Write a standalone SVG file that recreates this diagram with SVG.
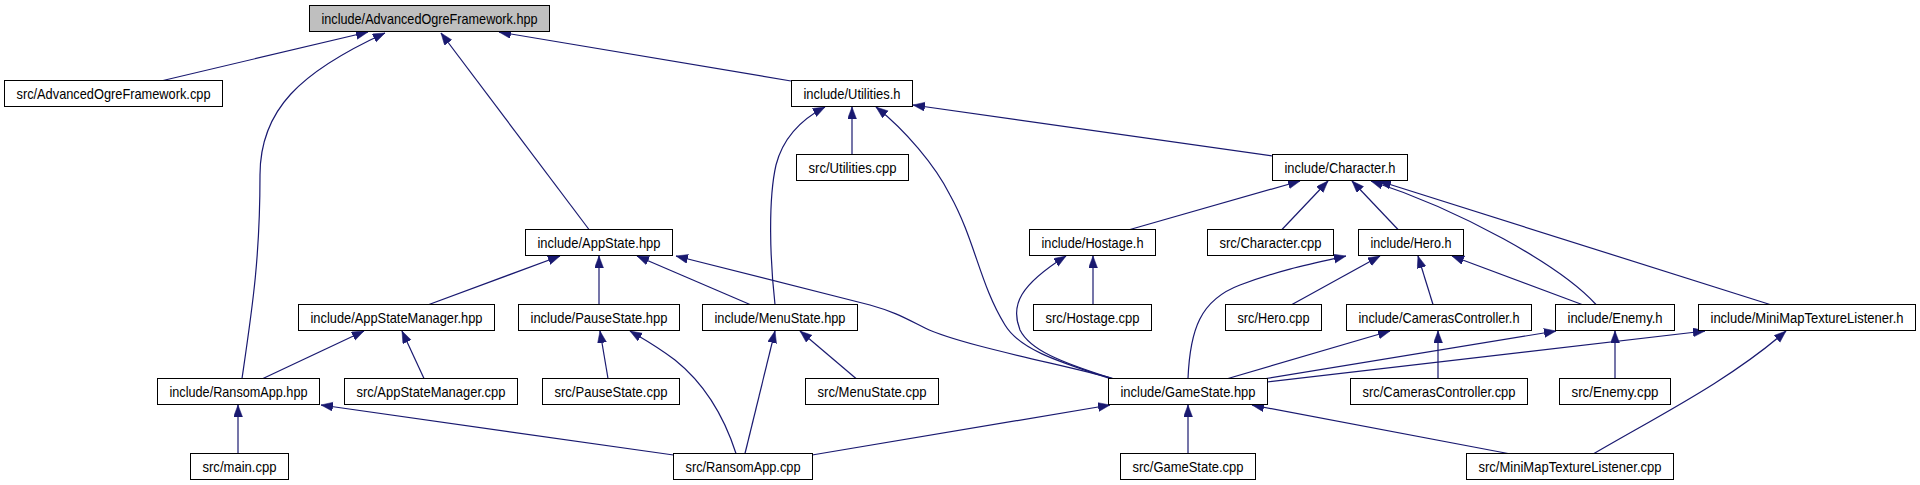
<svg xmlns="http://www.w3.org/2000/svg" width="1920" height="485" viewBox="0 0 1920 485">
<style>
.n rect{fill:#ffffff;stroke:#000000;stroke-width:1}
.n.root rect{fill:#bfbfbf}
.n text{font-family:"Liberation Sans",Arial,sans-serif;font-size:15px;fill:#000000;text-anchor:middle}
.n text.tight{font-size:14px}
#edges path{fill:none;stroke:#191970;stroke-width:1.2;marker-end:url(#arr)}
</style>
<defs>
<marker id="arr" markerUnits="userSpaceOnUse" markerWidth="13" markerHeight="10" refX="12" refY="4.5" orient="auto">
<path d="M0,0 L12,4.5 L0,9 z" fill="#191970" stroke="#191970" stroke-width="0.5"/>
</marker>
</defs>
<rect x="0" y="0" width="1920" height="485" fill="#ffffff"/>
<g id="edges">
<path d="M163,80.5 L368,32"/>
<path d="M242,378.5 C252,310 260,260 260,175 C260,110 300,72 385,33"/>
<path d="M589,229.5 L441,33"/>
<path d="M791,81 L499,32"/>
<path d="M775,304.5 C770,260 768,200 776,165 C783,138 800,120 825,107"/>
<path d="M852,154.5 L852,107"/>
<path d="M1110,378.5 C1060,362 1020,350 1005,325 C980,285 975,240 950,195 C935,165 905,130 876,107"/>
<path d="M1272.5,156 L913,105"/>
<path d="M1130,229.5 L1300,181"/>
<path d="M1282,229.5 L1328,181"/>
<path d="M1398,229.5 L1352,181"/>
<path d="M1596,304.5 C1560,265 1460,210 1371,181"/>
<path d="M1770,304.5 L1379,181"/>
<path d="M429,304.5 L560,256"/>
<path d="M599,304.5 L599,256"/>
<path d="M750,304.5 L637,256"/>
<path d="M1113,378.5 C1060,364 960,345 925,328 C905,318 895,312 870,305 L676,256"/>
<path d="M263,378.5 L364,331"/>
<path d="M424,378.5 L402,331"/>
<path d="M608,378.5 L600,331"/>
<path d="M736,453.5 C722,410 700,380 675,360 C655,345 640,337 630,331"/>
<path d="M745,453.5 L775,331"/>
<path d="M856,378.5 L800,331"/>
<path d="M238,453.5 L238,405"/>
<path d="M673.5,455 L321,405"/>
<path d="M812,455 L1110,405"/>
<path d="M1188,453.5 L1188,405"/>
<path d="M1508,453.5 L1252,405"/>
<path d="M1112,378.5 C1060,362 1030,350 1020,330 C1010,305 1020,285 1066,256"/>
<path d="M1188,378.5 C1190,330 1200,300 1240,285 C1280,270 1310,264 1346,256"/>
<path d="M1292,304.5 L1380,256"/>
<path d="M1433,304.5 L1418,256"/>
<path d="M1582,304.5 L1452,256"/>
<path d="M1228,378.5 L1390,331"/>
<path d="M1263,379 L1556,331"/>
<path d="M1267,382 L1705,331"/>
<path d="M1438,378.5 L1438,331"/>
<path d="M1615,378.5 L1615,331"/>
<path d="M1594,453.5 C1660,415 1730,380 1786,331"/>
<path d="M1093,304.5 L1093,256"/>
</g>
<g id="n_aof_hpp" class="n root"><rect x="309.5" y="5.5" width="240" height="26"/><text x="429.5" y="23.5" textLength="216" lengthAdjust="spacingAndGlyphs">include/AdvancedOgreFramework.hpp</text></g>
<g id="n_aof_cpp" class="n"><rect x="4.5" y="80.5" width="218" height="26"/><text x="113.5" y="98.5" textLength="194" lengthAdjust="spacingAndGlyphs">src/AdvancedOgreFramework.cpp</text></g>
<g id="n_util_h" class="n"><rect x="791.5" y="80.5" width="121" height="26"/><text x="852" y="98.5" textLength="97" lengthAdjust="spacingAndGlyphs">include/Utilities.h</text></g>
<g id="n_util_cpp" class="n"><rect x="796.5" y="154.5" width="112" height="26"/><text x="852.5" y="172.5" textLength="88" lengthAdjust="spacingAndGlyphs">src/Utilities.cpp</text></g>
<g id="n_char_h" class="n"><rect x="1272.5" y="154.5" width="135" height="26"/><text x="1340" y="172.5" textLength="111" lengthAdjust="spacingAndGlyphs">include/Character.h</text></g>
<g id="n_appstate_hpp" class="n"><rect x="525.5" y="229.5" width="147" height="26"/><text x="599" y="247.5" textLength="123" lengthAdjust="spacingAndGlyphs">include/AppState.hpp</text></g>
<g id="n_hostage_h" class="n"><rect x="1029.5" y="229.5" width="126" height="26"/><text x="1092.5" y="247.5" textLength="102" lengthAdjust="spacingAndGlyphs">include/Hostage.h</text></g>
<g id="n_char_cpp" class="n"><rect x="1207.5" y="229.5" width="126" height="26"/><text x="1270.5" y="247.5" textLength="102" lengthAdjust="spacingAndGlyphs">src/Character.cpp</text></g>
<g id="n_hero_h" class="n"><rect x="1358.5" y="229.5" width="105" height="26"/><text x="1411" y="247.5" textLength="81" lengthAdjust="spacingAndGlyphs">include/Hero.h</text></g>
<g id="n_asm_hpp" class="n"><rect x="298.5" y="304.5" width="196" height="26"/><text x="396.5" y="322.5" textLength="172" lengthAdjust="spacingAndGlyphs">include/AppStateManager.hpp</text></g>
<g id="n_pause_hpp" class="n"><rect x="518.5" y="304.5" width="161" height="26"/><text x="599" y="322.5" textLength="137" lengthAdjust="spacingAndGlyphs">include/PauseState.hpp</text></g>
<g id="n_menu_hpp" class="n"><rect x="702.5" y="304.5" width="155" height="26"/><text x="780" y="322.5" textLength="131" lengthAdjust="spacingAndGlyphs">include/MenuState.hpp</text></g>
<g id="n_hostage_cpp" class="n"><rect x="1033.5" y="304.5" width="118" height="26"/><text x="1092.5" y="322.5" textLength="94" lengthAdjust="spacingAndGlyphs">src/Hostage.cpp</text></g>
<g id="n_hero_cpp" class="n"><rect x="1225.5" y="304.5" width="96" height="26"/><text x="1273.5" y="322.5" textLength="72" lengthAdjust="spacingAndGlyphs">src/Hero.cpp</text></g>
<g id="n_cam_h" class="n"><rect x="1346.5" y="304.5" width="185" height="26"/><text x="1439" y="322.5" textLength="161" lengthAdjust="spacingAndGlyphs">include/CamerasController.h</text></g>
<g id="n_enemy_h" class="n"><rect x="1555.5" y="304.5" width="119" height="26"/><text x="1615" y="322.5" textLength="95" lengthAdjust="spacingAndGlyphs">include/Enemy.h</text></g>
<g id="n_mmtl_h" class="n"><rect x="1698.5" y="304.5" width="217" height="26"/><text class="tight" x="1807" y="322.5" textLength="193" lengthAdjust="spacingAndGlyphs">include/MiniMapTextureListener.h</text></g>
<g id="n_ransom_hpp" class="n"><rect x="157.5" y="378.5" width="162" height="26"/><text x="238.5" y="396.5" textLength="138" lengthAdjust="spacingAndGlyphs">include/RansomApp.hpp</text></g>
<g id="n_asm_cpp" class="n"><rect x="344.5" y="378.5" width="173" height="26"/><text x="431" y="396.5" textLength="149" lengthAdjust="spacingAndGlyphs">src/AppStateManager.cpp</text></g>
<g id="n_pause_cpp" class="n"><rect x="542.5" y="378.5" width="137" height="26"/><text x="611" y="396.5" textLength="113" lengthAdjust="spacingAndGlyphs">src/PauseState.cpp</text></g>
<g id="n_menu_cpp" class="n"><rect x="805.5" y="378.5" width="133" height="26"/><text x="872" y="396.5" textLength="109" lengthAdjust="spacingAndGlyphs">src/MenuState.cpp</text></g>
<g id="n_gamestate_hpp" class="n"><rect x="1108.5" y="378.5" width="159" height="26"/><text x="1188" y="396.5" textLength="135" lengthAdjust="spacingAndGlyphs">include/GameState.hpp</text></g>
<g id="n_cam_cpp" class="n"><rect x="1350.5" y="378.5" width="177" height="26"/><text x="1439" y="396.5" textLength="153" lengthAdjust="spacingAndGlyphs">src/CamerasController.cpp</text></g>
<g id="n_enemy_cpp" class="n"><rect x="1559.5" y="378.5" width="111" height="26"/><text x="1615" y="396.5" textLength="87" lengthAdjust="spacingAndGlyphs">src/Enemy.cpp</text></g>
<g id="n_main_cpp" class="n"><rect x="190.5" y="453.5" width="98" height="26"/><text x="239.5" y="471.5" textLength="74" lengthAdjust="spacingAndGlyphs">src/main.cpp</text></g>
<g id="n_ransom_cpp" class="n"><rect x="673.5" y="453.5" width="139" height="26"/><text x="743" y="471.5" textLength="115" lengthAdjust="spacingAndGlyphs">src/RansomApp.cpp</text></g>
<g id="n_gamestate_cpp" class="n"><rect x="1120.5" y="453.5" width="135" height="26"/><text x="1188" y="471.5" textLength="111" lengthAdjust="spacingAndGlyphs">src/GameState.cpp</text></g>
<g id="n_mmtl_cpp" class="n"><rect x="1466.5" y="453.5" width="207" height="26"/><text x="1570" y="471.5" textLength="183" lengthAdjust="spacingAndGlyphs">src/MiniMapTextureListener.cpp</text></g>
</svg>
